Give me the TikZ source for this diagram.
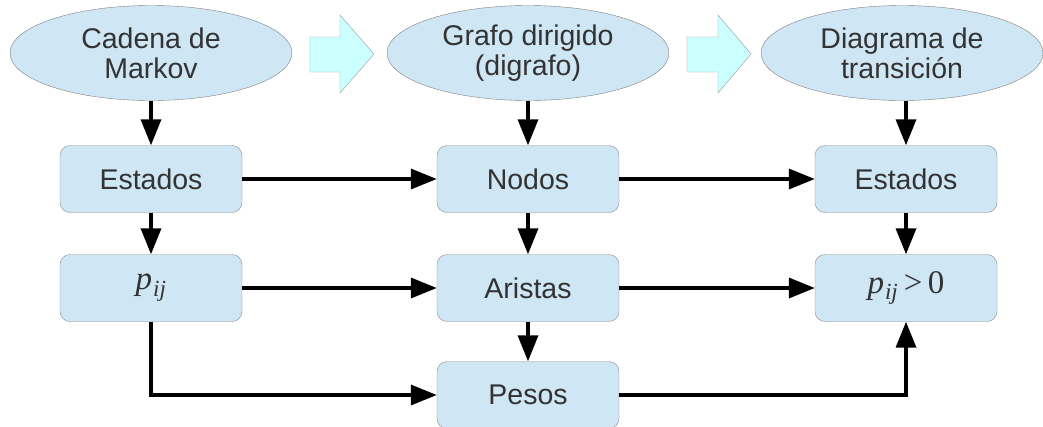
\documentclass[tikz,border=0pt]{standalone}
\usepackage{fontspec}
\setmainfont{Liberation Sans}
\newfontfamily\formulafont{Liberation Serif}
\usetikzlibrary{shapes.geometric, arrows.meta, positioning}
\definecolor{boxblue}{HTML}{CFE6F4}
\definecolor{arrowcyan}{HTML}{CCFFFF}
\definecolor{textgray}{HTML}{333333}
\newcommand{\pij}{{\itshape p\kern1pt\textsubscript{ij}}}

\begin{document}
\begin{tikzpicture}[
		x=1pt, y=-1pt,
		font=\fontsize{28.5}{30}\selectfont,
		topic/.style={ellipse, draw=black!50, fill=boxblue, text=textgray, minimum width=282pt, minimum height=95pt, inner sep=0pt, align=center},
		box/.style={draw=black!45, fill=boxblue, text=textgray, rounded corners=10pt, minimum width=182pt, minimum height=67pt, inner sep=0pt},
		bigarrow/.style={draw=black!40, fill=arrowcyan},
		arrow/.style={-{Triangle[length=26pt, width=20pt]}, line width=3.5pt, black},
		formula/.style={font=\fontsize{33}{36}\formulafont}
		]
		\useasboundingbox (0,0) rectangle (1043,426);
		
		% Top: the three models
		\node[topic] (markov) at (151,53) {Cadena de\\Markov};
		\node[topic] (digrafo) at (528,53) {Grafo dirigido\\(digrafo)};
		\node[topic] (transicion) at (902,53) {Diagrama de\\transición};
		
		% Block arrows between the models
		\draw[bigarrow] (310,37) -- (340,37) -- (340,15) -- (374,54) -- (340,93) -- (340,72) -- (310,72) -- cycle;
		\draw[bigarrow] (687,37) -- (718,37) -- (718,15) -- (751,54) -- (718,93) -- (718,72) -- (687,72) -- cycle;
		
		% Left column
		\node[box, formula] (pij1) at (151,288) {\pij};
		\node[box] (estados1) at (151,179) {Estados};
		
		% Middle column
		\node[box] (nodos) at (528,179) {Nodos};
		\node[box] (aristas) at (528,288) {Aristas};
		\node[box] (pesos) at (528,395) {Pesos};
		
		% Right column
		\node[box] (estados2) at (906,179) {Estados};
		\node[box, formula] (pij2) at (906,288) {\pij\,>\,0};
		
		% Vertical links
		\draw[arrow] (markov) -- (estados1);
		\draw[arrow] (digrafo) -- (nodos);
		\draw[arrow] (transicion.south -| estados2) -- (estados2);
		\draw[arrow] (estados1) -- (pij1);
		\draw[arrow] (nodos) -- (aristas);
		\draw[arrow] (aristas) -- (pesos);
		\draw[arrow] (estados2) -- (pij2);
		
		% Horizontal links
		\draw[arrow] (estados1) -- (nodos);
		\draw[arrow] (nodos) -- (estados2);
		\draw[arrow] (pij1) -- (aristas);
		\draw[arrow] (aristas) -- (pij2);
		\draw[arrow] (pij1.south) |- (pesos.west);
		\draw[arrow] (pesos.east) -| (pij2.south);
		
	\end{tikzpicture}
\end{document}
